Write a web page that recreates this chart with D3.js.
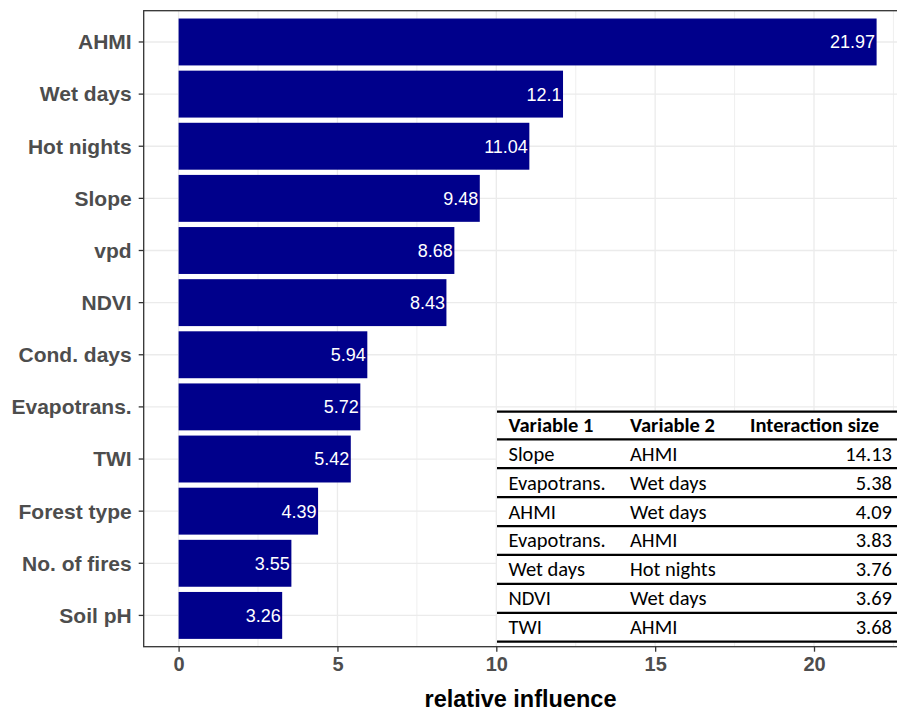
<!DOCTYPE html>
<html>
<head>
<meta charset="utf-8">
<script src="https://cdn.jsdelivr.net/npm/d3@7/dist/d3.min.js"></script>
<style>
  html, body { margin: 0; padding: 0; background: #fff; }
  svg { display: block; }
</style>
</head>
<body>
<svg id="chart" width="897" height="712"></svg>
<script>
// ---------- data ----------
const categories = ["AHMI", "Wet days", "Hot nights", "Slope", "vpd", "NDVI",
  "Cond. days", "Evapotrans.", "TWI", "Forest type", "No. of fires", "Soil pH"];
const influence = [21.97, 12.1, 11.04, 9.48, 8.68, 8.43, 5.94, 5.72, 5.42, 4.39, 3.55, 3.26];
const influenceLabels = ["21.97", "12.1", "11.04", "9.48", "8.68", "8.43", "5.94", "5.72", "5.42", "4.39", "3.55", "3.26"];
const xTicks = [0, 5, 10, 15, 20];
const xMinorTicks = [2.5, 7.5, 12.5, 17.5, 22.5];

const tableHeader = ["Variable 1", "Variable 2", "Interaction size"];
const tableVar1 = ["Slope", "Evapotrans.", "AHMI", "Evapotrans.", "Wet days", "NDVI", "TWI"];
const tableVar2 = ["AHMI", "Wet days", "Wet days", "AHMI", "Hot nights", "Wet days", "AHMI"];
const tableSize = ["14.13", "5.38", "4.09", "3.83", "3.76", "3.69", "3.68"];

// ---------- layout ----------
const svg = d3.select("#chart");
const panel = { left: 143.7, top: 10.7, bottom: 646.7, right: 911.5 };
const maxV = d3.max(influence);
const x = d3.scaleLinear()
  .domain([-0.05 * maxV, maxV * 1.05])
  .range([panel.left, panel.right]);
const y = d3.scaleBand()
  .domain(categories)
  .range([panel.top, panel.bottom])
  .paddingInner(0.1)
  .paddingOuter(0.15);

const axisFont = "'Liberation Sans', Arial, Helvetica, sans-serif";

// grid
const grid = svg.append("g");
grid.selectAll("line.minor").data(xMinorTicks).join("line")
  .attr("x1", d => x(d)).attr("x2", d => x(d))
  .attr("y1", panel.top).attr("y2", panel.bottom)
  .attr("stroke", "#EBEBEB").attr("stroke-width", 0.8);
grid.selectAll("line.majx").data(xTicks).join("line")
  .attr("x1", d => x(d)).attr("x2", d => x(d))
  .attr("y1", panel.top).attr("y2", panel.bottom)
  .attr("stroke", "#EBEBEB").attr("stroke-width", 1.3);
grid.selectAll("line.majy").data(categories).join("line")
  .attr("x1", panel.left).attr("x2", panel.right)
  .attr("y1", d => y(d) + y.bandwidth() / 2).attr("y2", d => y(d) + y.bandwidth() / 2)
  .attr("stroke", "#EBEBEB").attr("stroke-width", 1.3);

// bars
const data = categories.map((c, i) => ({ c, v: influence[i], lab: influenceLabels[i] }));
svg.append("g").selectAll("rect").data(data).join("rect")
  .attr("x", x(0))
  .attr("y", d => y(d.c))
  .attr("width", d => x(d.v) - x(0))
  .attr("height", y.bandwidth())
  .attr("fill", "#00008B");

svg.append("g").selectAll("text").data(data).join("text")
  .attr("x", d => x(d.v) - 1.5)
  .attr("y", d => y(d.c) + y.bandwidth() / 2 + 6.4)
  .attr("text-anchor", "end")
  .attr("fill", "#ffffff")
  .style("font-family", axisFont)
  .style("font-size", "18px")
  .text(d => d.lab);

// panel border
svg.append("rect")
  .attr("x", panel.left).attr("y", panel.top)
  .attr("width", panel.right - panel.left).attr("height", panel.bottom - panel.top)
  .attr("fill", "none").attr("stroke", "#333333").attr("stroke-width", 1.3);

// y axis
const yAxis = d3.axisLeft(y).tickSize(5).tickPadding(7);
const gy = svg.append("g").attr("transform", `translate(${panel.left},0)`).call(yAxis);
gy.select(".domain").remove();
gy.selectAll(".tick line").attr("stroke", "#333333").attr("stroke-width", 1.3);
gy.selectAll(".tick text")
  .attr("fill", "#4D4D4D")
  .style("font-family", axisFont)
  .style("font-size", "21px")
  .style("font-weight", "bold")
  .attr("dy", "0.35em");

// x axis
const xAxis = d3.axisBottom(x).tickValues(xTicks).tickFormat(d3.format("d")).tickSize(5).tickPadding(5.5);
const gx = svg.append("g").attr("transform", `translate(0,${panel.bottom})`).call(xAxis);
gx.select(".domain").remove();
gx.selectAll(".tick line").attr("stroke", "#333333").attr("stroke-width", 1.3);
gx.selectAll(".tick text")
  .attr("fill", "#4D4D4D")
  .style("font-family", axisFont)
  .style("font-size", "20px")
  .style("font-weight", "bold");

// x title
svg.append("text")
  .attr("x", 520.5).attr("y", 707)
  .attr("text-anchor", "middle")
  .attr("fill", "#000")
  .style("font-family", axisFont)
  .style("font-size", "23.5px")
  .style("font-weight", "bold")
  .text("relative influence");

// ---------- interaction table ----------
const tbl = { left: 497, right: 897, top: 411.7, headerBottom: 439.3, bottom: 641.7 };
const tableFont = "Carlito, Lato, 'Open Sans', sans-serif";
const rowY = d3.scaleBand().domain(d3.range(tableVar1.length))
  .range([tbl.headerBottom, tbl.bottom]);
const colX = [508.5, 630, 892];

const tg = svg.append("g");
tg.append("rect")
  .attr("x", tbl.left).attr("y", tbl.top - 1)
  .attr("width", tbl.right - tbl.left).attr("height", tbl.bottom - tbl.top + 2)
  .attr("fill", "#fff");

const lineYs = [tbl.top, tbl.headerBottom].concat(d3.range(tableVar1.length).map(i => rowY(i) + rowY.bandwidth()));
tg.selectAll("line").data(lineYs).join("line")
  .attr("x1", tbl.left).attr("x2", tbl.right)
  .attr("y1", d => d).attr("y2", d => d)
  .attr("stroke", "#000").attr("stroke-width", 2.2);

// header
tg.selectAll("text.h").data(tableHeader).join("text")
  .attr("class", "h")
  .attr("x", (d, i) => i === 2 ? 750 : colX[i])
  .attr("y", tbl.headerBottom - 7.6)
  .attr("fill", "#000")
  .style("font-family", tableFont)
  .style("font-size", "20.5px")
  .style("font-weight", "bold")
  .text(d => d);

const rows = tableVar1.map((v, i) => ({ i, v1: v, v2: tableVar2[i], s: tableSize[i] }));
const rg = tg.selectAll("g.row").data(rows).join("g").attr("class", "row");
rg.append("text")
  .attr("x", colX[0]).attr("y", d => rowY(d.i) + rowY.bandwidth() - 7.5)
  .text(d => d.v1);
rg.append("text")
  .attr("x", colX[1]).attr("y", d => rowY(d.i) + rowY.bandwidth() - 7.5)
  .text(d => d.v2);
rg.append("text")
  .attr("x", colX[2]).attr("y", d => rowY(d.i) + rowY.bandwidth() - 7.5)
  .attr("text-anchor", "end")
  .text(d => d.s);
rg.selectAll("text")
  .attr("fill", "#000")
  .style("font-family", tableFont)
  .style("font-size", "20.5px");
</script>
</body>
</html>
